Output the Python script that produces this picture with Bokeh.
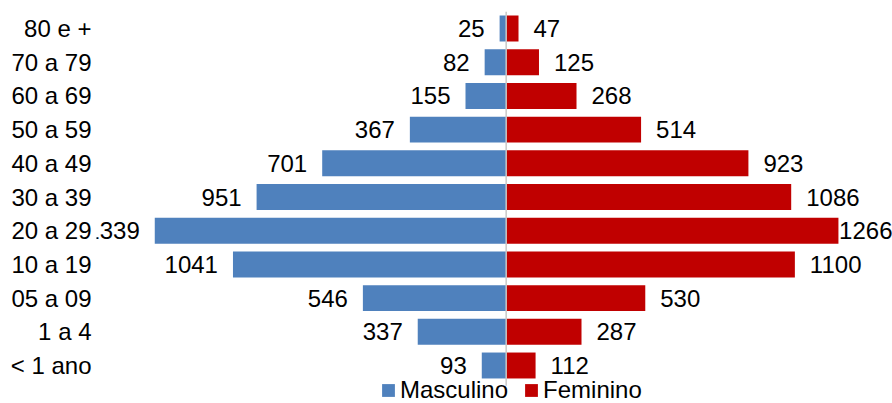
from bokeh.plotting import figure
from bokeh.models import Range1d, FixedTicker, ColumnDataSource, Legend, LegendItem
from bokeh.core.properties import value
from bokeh.embed import file_html
from bokeh.resources import INLINE

categories = ["< 1 ano", "1 a 4", "05 a 09", "10 a 19", "20 a 29", "30 a 39",
              "40 a 49", "50 a 59", "60 a 69", "70 a 79", "80 e +"]
masculino = [93, 337, 546, 1041, 1339, 951, 701, 367, 155, 82, 25]
feminino = [112, 287, 530, 1100, 1266, 1086, 923, 514, 268, 125, 47]

FONT = "Liberation Sans"
FS = 24
BLUE = "#4F81BD"
RED = "#C00000"

W, H = 892, 403
LEFT = 96
frame_w = W - LEFT
x0, x1 = -1561, 1472
y0, y1 = -1.1276, 10.831

n = len(categories)
ys = list(range(n))

p = figure(width=W, height=H, output_backend="svg", toolbar_location=None,
           x_range=Range1d(x0, x1), y_range=Range1d(y0, y1),
           x_axis_location=None, min_border_left=LEFT, min_border_right=0,
           min_border_top=0, min_border_bottom=0, outline_line_color=None,
           background_fill_color="white", border_fill_color="white")
p.grid.visible = False

src = ColumnDataSource(dict(y=ys, m=masculino, f=feminino,
                            mneg=[-v for v in masculino], zero=[0] * n,
                            mt=[str(v) for v in masculino], ft=[str(v) for v in feminino]))

rm = p.hbar(y="y", left="mneg", right="zero", height=0.77, source=src,
            fill_color=BLUE, line_color=None)
rf = p.hbar(y="y", left="zero", right="f", height=0.77, source=src,
            fill_color=RED, line_color=None)

# center axis line
p.segment(x0=[0], x1=[0], y0=[-0.6], y1=[n - 0.5], line_color="#C8C8C8", line_width=1.5)

# labels
scale = frame_w / (x1 - x0)
gap = 15
foff = []
for v, t in zip(feminino, src.data["ft"]):
    end_px = (v - x0) * scale
    tw = 0.556 * FS * len(t)
    foff.append(min(gap, frame_w - end_px - tw))
src.data["foff"] = foff

p.text(x="mneg", y="y", text="mt", source=src, x_offset=-gap, text_align="right",
       text_baseline="middle", text_font=value(FONT), text_font_size=f"{FS}px",
       text_color="black")
p.text(x="f", y="y", text="ft", source=src, x_offset="foff", text_align="left",
       text_baseline="middle", text_font=value(FONT), text_font_size=f"{FS}px",
       text_color="black")

ax = p.yaxis[0]
ax.ticker = FixedTicker(ticks=ys)
ax.major_label_overrides = {i: c for i, c in enumerate(categories)}
ax.axis_line_color = None
ax.major_tick_line_color = None
ax.minor_tick_line_color = None
ax.major_tick_out = 0
ax.major_tick_in = 0
ax.major_label_standoff = 5
ax.major_label_text_font = FONT
ax.major_label_text_font_size = f"{FS}px"
ax.major_label_text_color = "black"

legend = Legend(items=[LegendItem(label="Masculino", renderers=[rm]),
                       LegendItem(label="Feminino", renderers=[rf])],
                orientation="horizontal", location=(284, -1),
                padding=0, margin=0, spacing=15, label_standoff=4,
                glyph_width=16, glyph_height=16, label_height=24,
                background_fill_alpha=0, border_line_color=None,
                label_text_font=FONT, label_text_font_size=f"{FS}px",
                label_text_color="black")
p.add_layout(legend, "center")

open("out.html", "w").write(file_html(p, INLINE))
